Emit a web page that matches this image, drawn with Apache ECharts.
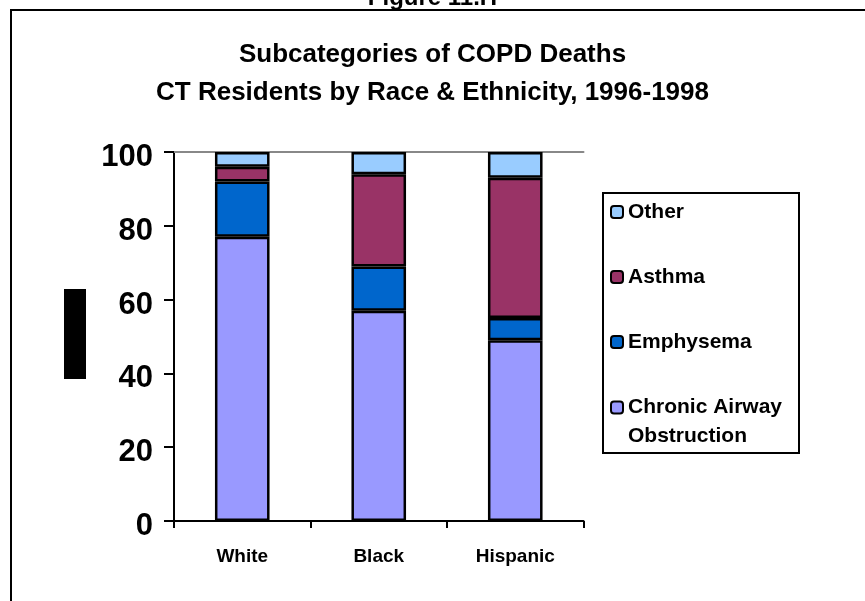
<!DOCTYPE html>
<html>
<head>
<meta charset="utf-8">
<script src="https://cdn.jsdelivr.net/npm/echarts@6/dist/echarts.min.js"></script>
<style>
  html, body { margin: 0; padding: 0; background: #fff; }
  #chart { width: 865px; height: 601px; }
</style>
</head>
<body>
<div id="chart"></div>
<script>
// Subcategories of COPD deaths (% of deaths), CT residents 1996-1998
const groups = ['White', 'Black', 'Hispanic'];
const chronicAirway = [77, 57, 49];
const emphysema = [15, 12, 6];
const asthma = [4, 25, 38];
const other = [4, 6, 7];
const yTicks = [0, 20, 40, 60, 80, 100];

const FONT = 'Liberation Sans, Arial, sans-serif';
const chart = echarts.init(document.getElementById('chart'), null, { renderer: 'canvas' });

const seriesDefs = [
  { name: 'Chronic Airway Obstruction', data: chronicAirway, color: '#9999FF' },
  { name: 'Emphysema', data: emphysema, color: '#0066CC' },
  { name: 'Asthma', data: asthma, color: '#993366' },
  { name: 'Other', data: other, color: '#99CCFF' }
];

function legendAt(name, top, extra) {
  return Object.assign({
    data: [name],
    left: 610,
    top: top,
    orient: 'vertical',
    padding: 0,
    itemWidth: 12,
    itemHeight: 12,
    selectedMode: false,
    textStyle: { fontFamily: FONT, fontWeight: 'bold', fontSize: 21, color: '#000', lineHeight: 24 }
  }, extra || {});
}

chart.setOption({
  animation: false,
  backgroundColor: '#fff',
  title: [
    {
      text: 'Figure 11.H',
      left: 'center',
      top: -14,
      padding: 0,
      textStyle: { fontFamily: FONT, fontWeight: 'bold', fontSize: 24, color: '#000', lineHeight: 24 }
    },
    {
      text: 'Subcategories of COPD Deaths\nCT Residents by Race & Ethnicity, 1996-1998',
      left: 'center',
      top: 36,
      padding: 0,
      textStyle: { fontFamily: FONT, fontWeight: 'bold', fontSize: 26, color: '#000', lineHeight: 38 }
    }
  ],
  legend: [
    legendAt('Other', 200),
    legendAt('Asthma', 265),
    legendAt('Emphysema', 330),
    legendAt('Chronic Airway Obstruction', 364, {
      formatter: function () { return '\nChronic Airway\nObstruction'; },
      textStyle: { fontFamily: FONT, fontWeight: 'bold', fontSize: 21, color: '#000', lineHeight: 29 }
    })
  ],
  graphic: [
    { type: 'rect', silent: true, z: 0,
      shape: { x: 11, y: 10, width: 920, height: 700 },
      style: { fill: 'none', stroke: '#000', lineWidth: 2 } },
    { type: 'rect', silent: true, z: 0,
      shape: { x: 603, y: 193, width: 196, height: 260 },
      style: { fill: 'none', stroke: '#000', lineWidth: 2 } },
    { type: 'rect', silent: true, z: 10,
      shape: { x: 64, y: 289, width: 22, height: 90 },
      style: { fill: '#000' } }
  ],
  grid: { left: 174, right: 281.5, top: 152, bottom: 80 },
  xAxis: [
    {
      type: 'category',
      data: groups,
      axisLine: { lineStyle: { color: '#000', width: 2 } },
      axisTick: { show: true, length: 7, lineStyle: { color: '#000', width: 2 } },
      axisLabel: { fontFamily: FONT, fontWeight: 'bold', fontSize: 19, color: '#000', margin: 26 }
    },
    {
      type: 'category',
      data: groups,
      position: 'top',
      axisLine: { lineStyle: { color: '#888', width: 2 } },
      axisTick: { show: false },
      axisLabel: { show: false }
    }
  ],
  yAxis: {
    type: 'value',
    min: yTicks[0],
    max: yTicks[yTicks.length - 1],
    interval: 20,
    axisLine: { show: true, lineStyle: { color: '#000', width: 2 } },
    axisTick: { show: true, length: 10, lineStyle: { color: '#000', width: 2 } },
    splitLine: { show: false },
    axisLabel: {
      fontFamily: FONT, fontWeight: 'bold', fontSize: 31, color: '#000', margin: 21,
      verticalAlign: 'top', lineHeight: 11
    }
  },
  series: seriesDefs.map(function (s) {
    return {
      name: s.name,
      type: 'bar',
      stack: 'total',
      data: s.data,
      barWidth: '40%',
      itemStyle: { color: s.color, borderColor: '#000', borderWidth: 2.5 }
    };
  })
});
</script>
</body>
</html>
